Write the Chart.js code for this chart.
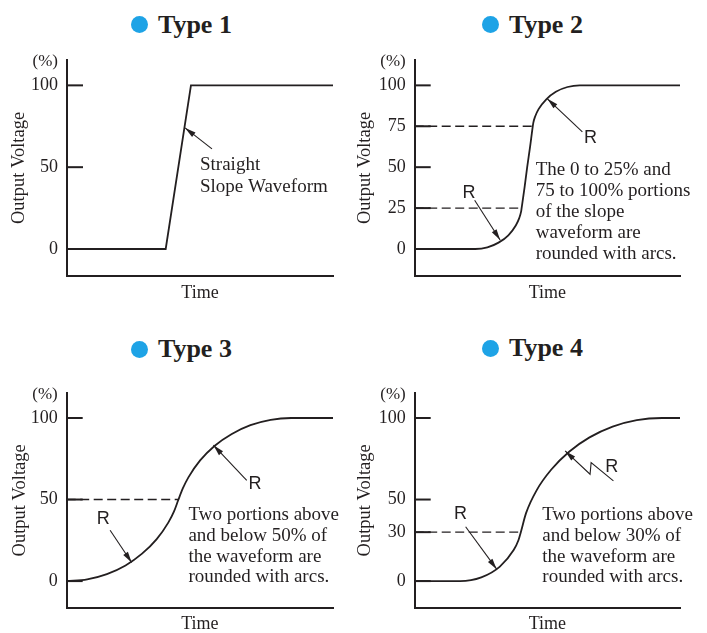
<!DOCTYPE html>
<html>
<head>
<meta charset="utf-8">
<script src="https://cdn.jsdelivr.net/npm/chart.js@4.4.1/dist/chart.umd.min.js"></script>
<style>
body{margin:0;background:#fff;width:707px;height:633px;position:relative;overflow:hidden}
canvas{position:absolute}
.ttl{position:absolute;font:bold 26px/26px "Liberation Serif",serif;color:#231f20;white-space:nowrap}
.dot{position:absolute;width:17px;height:17px;border-radius:50%;background:#1ea3e6}
</style>
</head>
<body>
<div class="dot" style="left:131px;top:15.5px"></div><div class="ttl" style="left:158px;top:11.5px">Type 1</div>
<div class="dot" style="left:482px;top:15.5px"></div><div class="ttl" style="left:509px;top:11.5px">Type 2</div>
<div class="dot" style="left:131px;top:340.5px"></div><div class="ttl" style="left:158px;top:335.5px">Type 3</div>
<div class="dot" style="left:482px;top:339.5px"></div><div class="ttl" style="left:509px;top:334.5px">Type 4</div>
<canvas id="c1" width="354" height="316" style="left:0;top:0"></canvas>
<canvas id="c2" width="353" height="316" style="left:354px;top:0"></canvas>
<canvas id="c3" width="354" height="317" style="left:0;top:316px"></canvas>
<canvas id="c4" width="353" height="317" style="left:354px;top:316px"></canvas>
<script>
// y tick values shown on each panel
var ticksType1 = [0, 50, 100];
var ticksType2 = [0, 25, 50, 75, 100];
var ticksType3 = [0, 50, 100];
var ticksType4 = [0, 30, 50, 100];

// waveforms: time (0-100 across the axis) and output voltage (%)
var timeType1 = [0, 37.1, 46.6, 100];
var voltType1 = [0, 0, 100, 100];
var timeType2 = [0, 22.8, 27.4, 31.6, 35.3, 38.1, 39.4, 40.1, 40.3, 41.4, 42.4, 43.5, 44.5, 44.7, 45.4, 46.7, 49.6, 53.2, 57.6, 62.2, 100];
var voltType2 = [0, 0, 1.0, 3.9, 8.4, 14.4, 18.9, 22.8, 25, 37.5, 50, 62.5, 75, 77.1, 81.0, 85.5, 91.5, 96.1, 99.0, 100, 100];
var timeType3 = [0, 7.7, 15.1, 22.1, 28.3, 33.8, 38.2, 40.3, 41.9, 43.6, 45.7, 50.1, 55.6, 62.0, 69.0, 76.6, 84.3, 100];
var voltType3 = [0, 1.1, 4.3, 9.6, 16.8, 25.7, 36.0, 42.7, 49.7, 56.8, 63.6, 74.0, 83.0, 90.2, 95.6, 98.9, 100, 100];
var timeType4 = [0, 17.1, 25.1, 32.1, 37.3, 39.1, 40, 42.0, 46.0, 51.5, 58.2, 65.9, 74.6, 83.7, 93.2, 100];
var voltType4 = [0, 0, 2.3, 8.9, 19.0, 25.0, 30, 41.8, 55.8, 68.4, 79.3, 88.1, 94.7, 98.7, 100, 100];

// dashed guide levels and where they meet the curve
var guideLevels2 = [75, 25];
var guideEnds2 = [44.6, 40.3];
var guideLevels3 = [50];
var guideEnds3 = [42];
var guideLevels4 = [30];
var guideEnds4 = [40];

var ink = '#231f20';
var serif = '"Liberation Serif", "Times New Roman", serif';
var sans = '"Liberation Sans", Arial, sans-serif';

function pts(xs, ys) {
    return xs.map(function (x, i) { return {x: x, y: ys[i]}; });
}

// short tick marks pointing into the plot, "(%)", arrows and notes
var extras = {
    id: 'extras',
    afterDraw: function (chart) {
        var ctx = chart.ctx, a = chart.chartArea;
        var xs = chart.scales.x, ys = chart.scales.y;
        var n = chart.options.plugins.extras;
        function px(p) { return [xs.getPixelForValue(p[0]), ys.getPixelForValue(p[1])]; }
        ctx.save();
        ctx.strokeStyle = ink;
        ctx.fillStyle = ink;
        ctx.lineWidth = 2;
        ys.ticks.forEach(function (t) {
            var y = ys.getPixelForValue(t.value);
            ctx.beginPath();
            ctx.moveTo(a.left, y);
            ctx.lineTo(a.left + 16, y);
            ctx.stroke();
        });
        ctx.font = '17px ' + serif;
        ctx.textAlign = 'right';
        ctx.textBaseline = 'middle';
        ctx.fillText('(%)', a.left - 9, a.top + 2);

        ctx.lineWidth = 1.1;
        n.arrows.forEach(function (ar) {
            var p = ar.map(px);
            ctx.beginPath();
            ctx.moveTo(p[0][0], p[0][1]);
            for (var i = 1; i < p.length; i++) ctx.lineTo(p[i][0], p[i][1]);
            ctx.stroke();
            var ang = Math.atan2(p[0][1] - p[1][1], p[0][0] - p[1][0]);
            var L = 11, W = 2.8;
            var c = Math.cos(ang), s = Math.sin(ang);
            ctx.beginPath();
            ctx.moveTo(p[0][0], p[0][1]);
            ctx.lineTo(p[0][0] - L * c + W * s, p[0][1] - L * s - W * c);
            ctx.lineTo(p[0][0] - L * c - W * s, p[0][1] - L * s + W * c);
            ctx.closePath();
            ctx.fill();
        });

        ctx.textAlign = 'center';
        ctx.font = '18px ' + sans;
        n.rs.forEach(function (r) {
            var p = px(r);
            ctx.fillText('R', p[0], p[1]);
        });

        ctx.textAlign = 'left';
        ctx.font = '19px ' + serif;
        n.lines.forEach(function (txt, i) {
            var p = px([n.textAt, n.textRows[i]]);
            ctx.fillText(txt, p[0], p[1]);
        });
        ctx.restore();
    }
};

function makeChart(id, xs, ys, ticks, levels, ends, smooth, box, notes) {
    var datasets = [{
        data: pts(xs, ys),
        borderColor: ink,
        borderWidth: 1.8,
        pointRadius: 0,
        tension: smooth ? 0.4 : 0,
        cubicInterpolationMode: smooth ? 'monotone' : 'default'
    }];
    levels.forEach(function (lv, i) {
        datasets.push({
            data: [{x: 0, y: lv}, {x: ends[i], y: lv}],
            borderColor: ink,
            borderWidth: 1.4,
            borderDash: [9, 4.5],
            pointRadius: 0
        });
    });
    var cv = document.getElementById(id);
    return new Chart(cv, {
        type: 'line',
        data: {datasets: datasets},
        plugins: [extras],
        options: {
            responsive: false,
            animation: false,
            layout: {padding: {top: box.top, right: cv.width - box.right, left: 0, bottom: 0}},
            plugins: {
                legend: {display: false},
                tooltip: {enabled: false},
                extras: notes
            },
            scales: {
                x: {
                    type: 'linear',
                    min: 0, max: 100,
                    grid: {display: false},
                    border: {display: true, color: ink, width: 2},
                    ticks: {display: false},
                    title: {display: true, text: 'Time', color: ink,
                        font: {family: serif, size: 18, lineHeight: 1},
                        padding: {top: 0, bottom: box.timePad}},
                    afterFit: function (s) { s.height = cv.height - box.bottom; }
                },
                y: {
                    type: 'linear',
                    min: -16.5, max: 115.5,
                    grid: {display: false, drawTicks: false},
                    border: {display: true, color: ink, width: 2},
                    afterBuildTicks: function (s) {
                        s.ticks = ticks.map(function (v) { return {value: v}; });
                    },
                    ticks: {color: ink, padding: 9, font: {family: serif, size: 18}},
                    title: {display: true, text: 'Output Voltage', color: ink,
                        font: {family: serif, size: 18.5, lineHeight: 1},
                        padding: {top: box.voltPad, bottom: 0}},
                    afterFit: function (s) { s.width = box.left; }
                }
            }
        }
    });
}

makeChart('c1', timeType1, voltType1, ticksType1, [], [], false,
    {left: 67, top: 60, right: 333, bottom: 276, timePad: 14, voltPad: 10.1},
    {arrows: [[[44.4, 74], [54.5, 61.2]]], rs: [],
     textAt: 50, textRows: [51.4, 38.1], lines: ['Straight', 'Slope Waveform']});

makeChart('c2', timeType2, voltType2, ticksType2, guideLevels2, guideEnds2, true,
    {left: 60.7, top: 60, right: 326, bottom: 276, timePad: 14, voltPad: 2},
    {arrows: [[[50.0, 91.8], [63.2, 71.6]], [[32.2, 5.5], [22.6, 29.8]]],
     rs: [[66.3, 67.7], [20.5, 33.9]],
     textAt: 45.6, textRows: [48.2, 35.5, 22.6, 10.0, -2.8],
     lines: ['The 0 to 25% and', '75 to 100% portions', 'of the slope', 'waveform are', 'rounded with arcs.']});

makeChart('c3', timeType3, voltType3, ticksType3, guideLevels3, guideEnds3, true,
    {left: 66.7, top: 76.7, right: 333, bottom: 292, timePad: 0, voltPad: 10.5},
    {arrows: [[[55.1, 83.3], [67.6, 61.8]], [[24.4, 11.4], [16.3, 31.2]]],
     rs: [[70.7, 59.8], [13.7, 38.3]],
     textAt: 45.7, textRows: [40.4, 27.6, 14.9, 2.2],
     lines: ['Two portions above', 'and below 50% of', 'the waveform are', 'rounded with arcs.']});

makeChart('c4', timeType4, voltType4, ticksType4, guideLevels4, guideEnds4, true,
    {left: 60.7, top: 76.7, right: 326, bottom: 292, timePad: 0, voltPad: 2},
    {arrows: [[[56.7, 79.8], [66.1, 65.5], [66.5, 72.6], [74.9, 61.4]], [[30.9, 7.3], [19.2, 33.3]]],
     rs: [[74.3, 70.0], [17.3, 41.4]],
     textAt: 48.1, textRows: [40.4, 27.6, 14.9, 2.2],
     lines: ['Two portions above', 'and below 30% of', 'the waveform are', 'rounded with arcs.']});
</script>
</body>
</html>
